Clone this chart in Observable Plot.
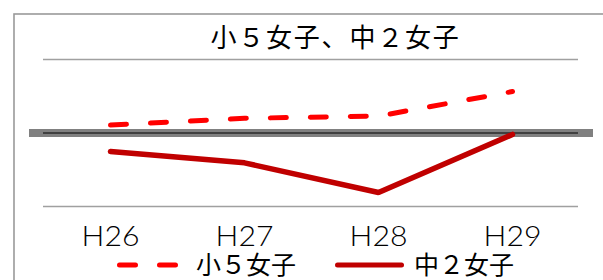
<!DOCTYPE html>
<html><head><meta charset="utf-8">
<script src="https://cdn.jsdelivr.net/npm/d3@7"></script>
<script src="https://cdn.jsdelivr.net/npm/@observablehq/plot@0.6"></script>
<style>
html,body{margin:0;padding:0;background:#fff;}
svg{display:block}
</style></head><body><div id="chart"></div>
<script>
const title = "小５女子、中２女子";
const years = ["H26", "H27", "H28", "H29"];
const seriesNames = ["小５女子", "中２女子"];
const shou5 = [50.54, 51.0, 51.15, 52.82];
const chu2 = [48.74, 47.97, 45.95, 49.9];
const gridValues = [45, 50, 55];
const baseline = 50;

const data = [
  ...years.map((y, i) => ({year: y, value: shou5[i], series: seriesNames[0]})),
  ...years.map((y, i) => ({year: y, value: chu2[i], series: seriesNames[1]}))
];

const W = 603, H = 280;
const colors = ["#FF0000", "#C00000"];
const dash = "16,24";
const cjk = "'Noto Sans CJK JP', sans-serif";

function decorations(index, scales, values, dimensions) {
  const g = d3.create("svg:g");
  g.append("rect").attr("x", 14).attr("y", 14).attr("width", W).attr("height", H)
    .attr("fill", "none").attr("stroke", "#9a9a9a").attr("stroke-width", 1.6);
  const ly = 265;
  g.append("line").attr("x1", 119.5).attr("x2", 176.5).attr("y1", ly).attr("y2", ly)
    .attr("stroke", colors[0]).attr("stroke-width", 5).attr("stroke-dasharray", dash)
    .attr("stroke-linecap", "round");
  g.append("text").attr("x", 196).attr("y", ly).attr("dy", "0.36em").attr("text-anchor", "start")
    .attr("font-family", cjk).attr("font-size", 25).attr("fill", "#000").text(seriesNames[0]);
  g.append("line").attr("x1", 337.5).attr("x2", 401.5).attr("y1", ly).attr("y2", ly)
    .attr("stroke", colors[1]).attr("stroke-width", 5).attr("stroke-linecap", "round");
  g.append("text").attr("x", 414).attr("y", ly).attr("dy", "0.36em").attr("text-anchor", "start")
    .attr("font-family", cjk).attr("font-size", 25).attr("fill", "#000").text(seriesNames[1]);
  return g.node();
}

const chart = Plot.plot({
  width: W,
  height: H,
  marginTop: 59,
  marginBottom: 74,
  marginLeft: 43,
  marginRight: 25,
  style: {background: "#fff", fontFamily: "Lato, sans-serif", overflow: "visible"},
  x: {type: "point", domain: years, range: [110, 512], padding: 0, label: null},
  y: {domain: [45, 55], axis: null},
  marks: [
    Plot.ruleY([baseline], {stroke: "#808080", strokeWidth: 8, insetLeft: -14, insetRight: -15}),
    Plot.ruleY(gridValues.filter(v => v !== baseline), {stroke: "#a0a0a0", strokeWidth: 1.5}),
    Plot.ruleY([baseline], {stroke: "#404040", strokeWidth: 2}),
    Plot.line(data.filter(d => d.series === seriesNames[0]), {
      x: "year", y: "value", stroke: colors[0], strokeWidth: 5,
      strokeDasharray: dash, strokeLinecap: "round"
    }),
    Plot.line(data.filter(d => d.series === seriesNames[1]), {
      x: "year", y: "value", stroke: colors[1], strokeWidth: 5.5,
      strokeLinecap: "round", strokeLinejoin: "miter"
    }),
    Plot.axisX({tickSize: 0, tickPadding: 20, fontSize: 27, fill: "#000", label: null, fontWeight: 300}),
    Plot.text([title], {
      frameAnchor: "top", dx: 24.5, dy: -21, lineAnchor: "middle",
      fontSize: 26, fontFamily: cjk, fill: "#000"
    }),
    decorations
  ]
});

d3.select(chart).selectAll("g[aria-label='x-axis tick label'] text").each(function() {
  const t = this.getAttribute("transform") || "";
  this.setAttribute("transform", t + " scale(1.12,1)");
});
d3.select(chart).selectAll("g[aria-label='text'] text").attr("letter-spacing", 1.8);

document.getElementById("chart").appendChild(chart);
</script>
</body></html>
